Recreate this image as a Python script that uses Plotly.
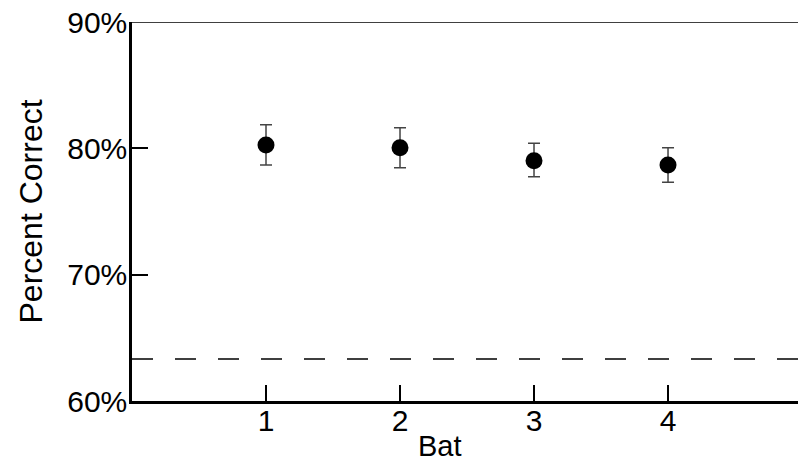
import plotly.graph_objects as go

bats = [1, 2, 3, 4]
pct_correct = [80.26, 80.05, 79.02, 78.68]
err_plus = [1.6, 1.58, 1.38, 1.37]
err_minus = [1.58, 1.58, 1.27, 1.37]
chance_level = 63.32
y_ticks = [60, 70, 80, 90]
x_ticks = [1, 2, 3, 4]

FONT = "Liberation Sans, Arial, sans-serif"

fig = go.Figure()
fig.add_trace(go.Scatter(
    x=bats, y=pct_correct, mode="markers",
    marker=dict(size=17, color="black"),
    error_y=dict(type="data", symmetric=False, array=err_plus, arrayminus=err_minus,
                 color="#444444", thickness=1.5, width=6),
    showlegend=False,
))

# chance line
fig.add_shape(type="line", xref="paper", x0=0, x1=1, yref="y", y0=chance_level, y1=chance_level,
              line=dict(color="black", width=1.5, dash="21px,22px"))
# top border
fig.add_shape(type="line", xref="paper", x0=0, x1=1, yref="y", y0=90, y1=90,
              line=dict(color="black", width=1.5))

fig.update_layout(
    width=798, height=466,
    margin=dict(l=132, r=0, t=22, b=65),
    paper_bgcolor="white", plot_bgcolor="white",
    font=dict(family=FONT, size=30, color="black"),
    xaxis=dict(range=[0, 4.97], tickvals=x_ticks, ticktext=[str(v) for v in x_ticks],
               showgrid=False, zeroline=False, showline=True, linecolor="black", linewidth=2.5,
               ticks="inside", ticklen=16, tickwidth=2, tickcolor="black",
               tickfont=dict(size=30), ticklabelstandoff=-9),
    yaxis=dict(range=[60, 90], tickvals=y_ticks, ticktext=[f"{v}%" for v in y_ticks],
               showgrid=False, zeroline=False, showline=True, linecolor="black", linewidth=2.5,
               ticks="inside", ticklen=16, tickwidth=2, tickcolor="black",
               tickfont=dict(size=30), ticklabelstandoff=-4),
    annotations=[
        dict(text="Bat", xref="paper", yref="paper", x=(440 - 132) / 666, y=-(446 - 401) / 379,
             showarrow=False, xanchor="center", yanchor="middle", font=dict(size=29)),
        dict(text="Percent Correct", xref="paper", yref="paper", x=-(132 - 30) / 666, y=0.5,
             showarrow=False, xanchor="center", yanchor="middle", textangle=-90, font=dict(size=32)),
    ],
)

fig.write_html("out.html")
